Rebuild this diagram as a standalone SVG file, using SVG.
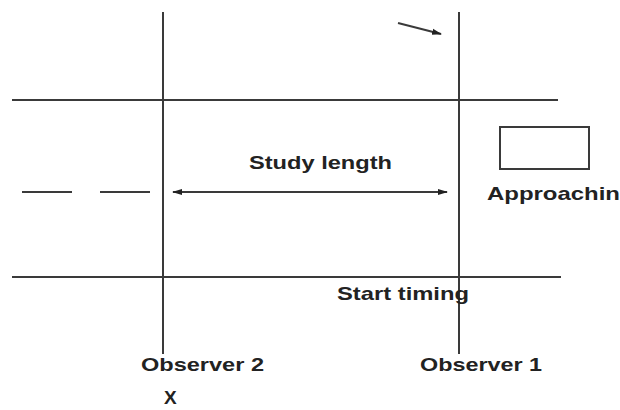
<svg xmlns="http://www.w3.org/2000/svg" width="620" height="410" viewBox="0 0 620 410">
<style>
.ln{stroke:#3a3a3a;stroke-width:2;fill:none}
.t{font-family:"Liberation Sans",Arial,sans-serif;font-weight:bold;font-size:19px;fill:#222}
</style>
<defs>
<marker id="ah" viewBox="0 0 10 10" refX="9" refY="5" markerWidth="5" markerHeight="5" orient="auto-start-reverse">
<path d="M0,2 L10,5 L0,8 Z" fill="#222"/>
</marker>
</defs>
<rect width="620" height="410" fill="#fff"/>
<g id="road">
<line class="ln" x1="12" y1="100" x2="558" y2="100"/>
<line class="ln" x1="12" y1="277" x2="561" y2="277"/>
<line class="ln" x1="22" y1="192" x2="72" y2="192"/>
<line class="ln" x1="100" y1="192" x2="150" y2="192"/>
</g>
<g id="observer2">
<line class="ln" x1="163" y1="12" x2="163" y2="354"/>
<text class="t" x="141" y="371" textLength="123" lengthAdjust="spacingAndGlyphs">Observer 2</text>
<text class="t" x="164" y="404" font-size="17">X</text>
</g>
<g id="observer1">
<line class="ln" x1="459" y1="12" x2="459" y2="354"/>
<text class="t" x="420" y="371" textLength="122" lengthAdjust="spacingAndGlyphs">Observer 1</text>
</g>
<g id="vehicle">
<rect x="500" y="127" width="89" height="42" fill="#fff" stroke="#3a3a3a" stroke-width="2"/>
<text class="t" x="487" y="200" textLength="133" lengthAdjust="spacingAndGlyphs">Approachin</text>
</g>
<g id="labels">
<text class="t" x="249" y="169" textLength="143" lengthAdjust="spacingAndGlyphs">Study length</text>
<text class="t" x="337" y="300" textLength="132" lengthAdjust="spacingAndGlyphs">Start timing</text>
</g>
<g id="connectors">
<line class="ln" x1="173" y1="192" x2="447" y2="192" marker-start="url(#ah)" marker-end="url(#ah)"/>
<line class="ln" x1="398" y1="23" x2="441" y2="34" marker-end="url(#ah)"/>
</g>
</svg>
